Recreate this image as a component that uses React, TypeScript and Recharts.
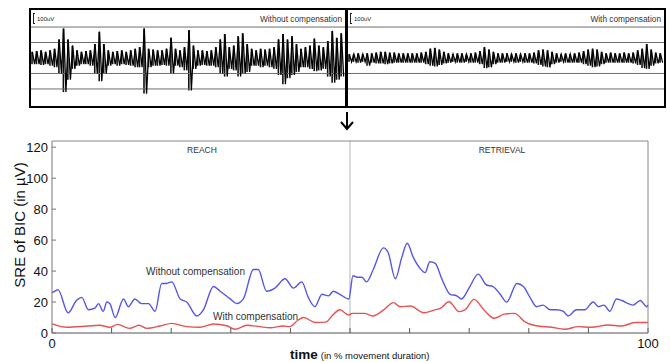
import { useMemo } from 'react';
import { ComposedChart, LineChart, Line, Bar, XAxis, YAxis, ReferenceLine } from 'recharts';

// raw EMG, upper / lower excursion per sample (1 unit = one grid step)
const withoutHi = [
  0.4, 0.45, 0.5, 0.4, 0.5, 0.6, 1.2, 1.9, 1.2, 0.8,
  0.5, 0.4, 0.45, 0.5, 0.9, 1.7, 0.9, 0.5, 0.4, 0.45,
  0.5, 0.4, 0.5, 0.6, 0.7, 1.9, 0.6, 0.55, 0.5, 0.5,
  0.6, 1.3, 0.6, 0.5, 0.7, 1.8, 0.8, 0.5, 0.5, 0.45,
  0.5, 0.7, 1.2, 1.55, 0.7, 0.8, 1.4, 1.6, 0.9, 0.6,
  0.5, 0.6, 0.55, 0.6, 0.7, 1.2, 1.55, 1.2, 1.4, 0.9,
  0.6, 0.7, 0.8, 1.25, 0.8, 0.7, 1.1, 1.75, 1.3, 1.6,
];
const withoutLo = [
  0.4, 0.4, 0.45, 0.4, 0.5, 0.6, 1.0, 2.2, 1.4, 0.7,
  0.5, 0.4, 0.4, 0.5, 1.0, 1.5, 1.0, 0.5, 0.4, 0.5,
  0.4, 0.45, 0.5, 0.6, 0.6, 2.3, 0.6, 0.5, 0.5, 0.45,
  0.5, 1.0, 0.5, 0.6, 0.8, 2.1, 0.7, 0.5, 0.45, 0.5,
  0.5, 0.6, 1.0, 1.2, 0.7, 0.8, 1.2, 1.0, 0.9, 0.5,
  0.5, 0.6, 0.5, 0.6, 0.7, 1.1, 1.7, 1.3, 1.1, 0.9,
  0.6, 0.6, 0.7, 0.85, 0.8, 0.7, 1.2, 1.6, 1.4, 1.2,
];
const withHi = [
  0.25, 0.25, 0.3, 0.25, 0.3, 0.3, 0.35, 0.4, 0.4, 0.35,
  0.35, 0.3, 0.3, 0.3, 0.3, 0.3, 0.35, 0.4, 0.6, 0.65,
  0.55, 0.4, 0.3, 0.25, 0.3, 0.3, 0.25, 0.3, 0.35, 0.45,
  0.7, 0.55, 0.4, 0.3, 0.3, 0.3, 0.25, 0.3, 0.25, 0.3,
  0.3, 0.35, 0.5, 0.55, 0.5, 0.4, 0.3, 0.25, 0.3, 0.25,
  0.3, 0.35, 0.45, 0.55, 0.6, 0.55, 0.4, 0.3, 0.35, 0.3,
  0.3, 0.35, 0.3, 0.35, 0.5, 0.6, 0.9, 0.55, 0.35, 0.3,
];
const withLo = [
  0.25, 0.25, 0.3, 0.25, 0.5, 0.3, 0.35, 0.35, 0.4, 0.35,
  0.3, 0.3, 0.3, 0.3, 0.3, 0.3, 0.3, 0.4, 0.5, 0.55,
  0.45, 0.35, 0.3, 0.25, 0.3, 0.3, 0.25, 0.3, 0.3, 0.4,
  0.65, 0.6, 0.4, 0.3, 0.3, 0.25, 0.25, 0.3, 0.25, 0.3,
  0.3, 0.35, 0.45, 0.55, 0.6, 0.4, 0.3, 0.25, 0.3, 0.3,
  0.3, 0.3, 0.4, 0.5, 0.6, 0.55, 0.4, 0.3, 0.3, 0.3,
  0.3, 0.3, 0.3, 0.35, 0.45, 0.65, 0.7, 0.5, 0.35, 0.3,
];
const emgGrid = [-2, -1, 1, 2];

// SRE of BIC (µV) over movement time (%)
const blueTime = [
  0, 0.5, 1, 2.7, 4.1, 5, 6.1, 7.2, 7.8, 8.6, 9.2, 9.7, 10.6, 12, 12.8, 13.9,
  15, 16.2, 17.3, 18.4, 19.2, 20.1, 21.5, 22.6, 24.3, 25.4, 27.1, 28.2, 29.9,
  31, 32.1, 33.8, 34.6, 36, 37.4, 39.1, 40.5, 41.9, 43, 44.1, 45.3, 46.4, 47.2,
  48.3, 49.8, 50.5, 51.2, 52, 52.8, 53.9, 55.6, 56.4, 57.6, 58.7, 59.6, 60.6,
  61.7, 62.6, 63.4, 64.3, 65.4, 66.8, 67.9, 68.7, 70.1, 71.5, 72.9, 74, 75.2,
  76.3, 78, 79.1, 80.2, 81.3, 82.4, 83.6, 84.7, 85.8, 86.6, 88, 89.4, 90.8,
  91.7, 92.6, 93.6, 94.7, 95.6, 96.7, 97.5, 98.7, 99.8, 100,
];
const blueSre = [
  26, 27, 28, 13, 21, 23, 15, 16, 19, 14, 20, 19, 10, 22, 17, 22,
  19, 19, 14, 32, 32, 33, 22, 20, 11, 15, 30, 27, 22,
  19, 22, 41, 41, 27, 29, 35, 29, 33, 23, 17, 25, 24, 27,
  25, 22, 37, 36, 36, 33, 41, 55, 52, 35, 49, 58, 49,
  42, 39, 46, 45, 35, 25, 24, 22, 30, 38, 31, 30, 25,
  20, 32, 30, 23, 17, 18, 15, 15, 14, 11, 15, 15, 20,
  17, 18, 14, 22, 21, 19, 18, 21, 17, 18,
];
const redTime = [
  0, 0.5, 2.5, 6, 8, 9.7, 11, 13, 14.6, 15.9, 18.1, 20.1, 22.6, 24.8, 27.1,
  29.3, 30.7, 32.7, 34.9, 36.6, 38.8, 39.9, 41.3, 42.2, 44.2, 45.9, 47.2, 48.3,
  49.8, 50.4, 52.4, 53.8, 55.6, 57.3, 58.4, 60.1, 62.4, 64.1, 65.2, 66.6, 68.3,
  69.4, 70.8, 72.5, 74.2, 75.9, 77.6, 79.3, 81.5, 83.8, 86, 88.3, 90.5, 93.3,
  95.6, 97.8, 100,
];
const redSre = [
  6, 5.2, 3.7, 4.5, 5, 3.7, 5.6, 3, 5, 3, 4.5, 6.2, 4.1, 3.7, 5.8,
  4.7, 2.4, 5, 4.1, 3.4, 4.5, 4.1, 8.4, 10, 6.8, 7, 12, 15,
  11.6, 12.7, 12.7, 11, 14.8, 19.6, 17, 17.4, 13.1, 14.8, 16, 20.2, 13.8,
  15.3, 21.7, 14.8, 9.5, 12.2, 12.7, 7.4, 4.5, 3.7, 2.4, 4.1, 3.7, 5.2,
  4.5, 6.8, 6.8,
];
const xTicks = [0, 10, 20, 30, 40, 50, 60, 70, 80, 90, 100];
const yTicks = [0, 20, 40, 60, 80, 100, 120];

const FONT = '"Liberation Sans", Arial, sans-serif';

function EmgPanel({ left, width, title, hi, lo }: any) {
  // each sample: a vertical stroke from -lo to +hi, plus a zigzag through the extremes
  const data = useMemo(
    () =>
      hi.flatMap((h: number, i: number) => [
        { s: i, v: h, r: [-lo[i], h] },
        { s: i + 0.5, v: -lo[i] },
      ]),
    [hi, lo]
  );
  return (
    <div
      style={{
        position: 'absolute',
        left,
        top: 8,
        width,
        height: 100,
        border: '2px solid #000',
        boxSizing: 'border-box',
        background: '#fff',
      }}
    >
      <ComposedChart width={width - 4} height={96} data={data} margin={{ top: 0, right: 0, bottom: 0, left: 0 }}>
        <XAxis dataKey="s" type="number" domain={[-0.3, hi.length - 0.2]} hide />
        <YAxis type="number" domain={[-3.1, 3.1]} hide />
        {emgGrid.map((g) => (
          <ReferenceLine key={g} y={g} stroke="#6f6f6f" strokeWidth={1} />
        ))}
        <Bar dataKey="r" fill="#111" barSize={1.6} isAnimationActive={false} />
        <Line
          dataKey="v"
          type="linear"
          stroke="#000"
          strokeWidth={1.3}
          dot={false}
          isAnimationActive={false}
        />
      </ComposedChart>
      <div style={{ position: 'absolute', left: 2, top: 3, fontSize: 6, color: '#222', display: 'flex', alignItems: 'center' }}>
        <span style={{ display: 'inline-block', width: 1, height: 9, borderLeft: '1px solid #222', borderTop: '1px solid #222', borderBottom: '1px solid #222', marginRight: 2 }} />
        100uV
      </div>
      <div style={{ position: 'absolute', right: 3, top: 4, fontSize: 8.3, color: '#333' }}>{title}</div>
    </div>
  );
}

const BottomTick = ({ x, y, payload }: any) =>
  payload.value === 0 || payload.value === 100 ? (
    <text x={x} y={y + 15} textAnchor="middle" fontSize={13} fill="#111">
      {payload.value}
    </text>
  ) : (
    <g />
  );

export default function App() {
  const blue = useMemo(() => blueTime.map((t, i) => ({ t, v: blueSre[i] })), []);
  const red = useMemo(() => redTime.map((t, i) => ({ t, v: redSre[i] })), []);

  return (
    <div style={{ position: 'absolute', left: 0, top: 0, width: 670, height: 362, background: '#fff', fontFamily: FONT }}>
      <div style={{ position: 'absolute', left: 0, top: 0 }}>
        <LineChart width={670} height={362} margin={{ top: 139, right: 20, bottom: 9, left: 12 }}>
          <XAxis
            xAxisId="b"
            dataKey="t"
            type="number"
            domain={[0, 100]}
            ticks={xTicks}
            height={20}
            tickSize={-5}
            tickMargin={5}
            stroke="#555"
            tick={<BottomTick />}
          />
          <XAxis
            xAxisId="top"
            orientation="top"
            dataKey="t"
            type="number"
            domain={[0, 100]}
            ticks={xTicks}
            height={2}
            tickSize={-5}
            stroke="#888"
            tick={false}
          />
          <YAxis
            yAxisId="l"
            type="number"
            domain={[0, 124]}
            ticks={yTicks}
            width={40}
            tickSize={-4}
            tickMargin={8}
            stroke="#777"
            tick={{ fontSize: 13, fill: '#111' }}
          />
          <YAxis
            yAxisId="r"
            orientation="right"
            type="number"
            domain={[0, 124]}
            ticks={yTicks}
            width={2}
            tickSize={-5}
            stroke="#888"
            tick={false}
          />
          <ReferenceLine xAxisId="b" yAxisId="l" x={50} stroke="#b5b5b5" strokeWidth={1} />
          <Line
            xAxisId="b"
            yAxisId="l"
            data={blue}
            dataKey="v"
            type="monotone"
            stroke="#5656e6"
            strokeWidth={1.4}
            dot={false}
            isAnimationActive={false}
          />
          <Line
            xAxisId="b"
            yAxisId="l"
            data={red}
            dataKey="v"
            type="monotone"
            stroke="#e65252"
            strokeWidth={1.4}
            dot={false}
            isAnimationActive={false}
          />
        </LineChart>
      </div>

      <EmgPanel left={29} width={318} title="Without compensation" hi={withoutHi} lo={withoutLo} />
      <EmgPanel left={346} width={320} title="With compensation" hi={withHi} lo={withLo} />

      <svg width={670} height={362} style={{ position: 'absolute', left: 0, top: 0, pointerEvents: 'none' }}>
        {/* arrow between the raw traces and the SRE plot */}
        <line x1={347} y1={112} x2={347} y2={129} stroke="#000" strokeWidth={2} />
        <polyline points="341,122 347,129 353,122" fill="none" stroke="#000" strokeWidth={2} />

        <text x={202} y={153} textAnchor="middle" fontSize={8.5} fill="#333">REACH</text>
        <text x={502} y={153} textAnchor="middle" fontSize={8.5} fill="#333">RETRIEVAL</text>
        <text x={146} y={275} fontSize={10} fill="#333">Without compensation</text>
        <text x={213} y={320} fontSize={10} fill="#333">With compensation</text>

        <text x={25} y={225} transform="rotate(-90 25 225)" textAnchor="middle" fontSize={15} fill="#111">
          SRE of BIC (in µV)
        </text>
        <text x={290} y={359} fill="#111">
          <tspan fontSize={13.5} fontWeight="bold">time</tspan>
          <tspan fontSize={9.5} dx={3}>(in % movement duration)</tspan>
        </text>
      </svg>
    </div>
  );
}
